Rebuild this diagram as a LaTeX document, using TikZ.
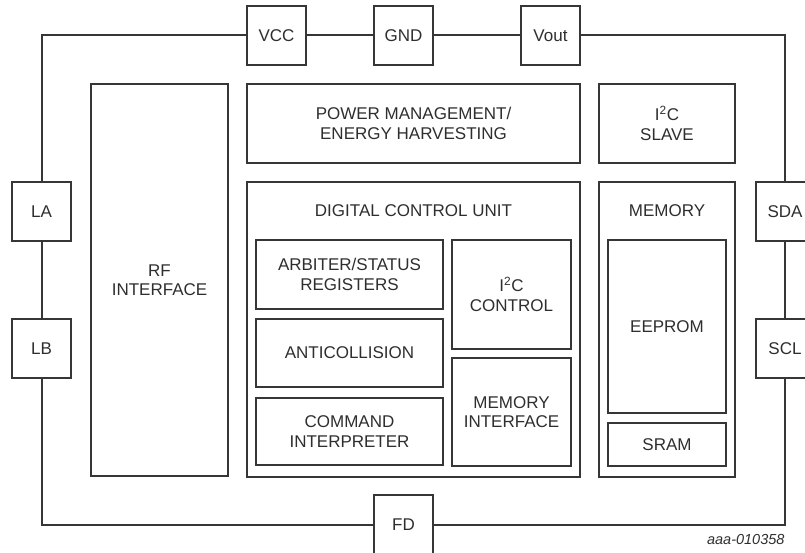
\documentclass[tikz,border=0pt]{standalone}
\usepackage{fontspec}
\setmainfont{Liberation Sans}
\definecolor{ink}{HTML}{363636}
\definecolor{txt}{HTML}{2E2E2E}
\tikzset{
  every node/.style={font=\fontsize{17}{19.5}\selectfont, text=txt, align=center},
  pin/.style={draw=ink, line width=2pt, minimum width=59pt, minimum height=59pt, inner sep=0pt},
  block/.style={draw=ink, line width=2pt, inner sep=0pt},
  part/.style={draw=ink, line width=1.8pt, inner sep=0pt},
  wire/.style={draw=ink, line width=2pt}
}

\begin{document}
\begin{tikzpicture}[x=1pt,y=-1pt]
            \clip (0,0) rectangle (805,553);

            % pins round the chip
            \node[pin] (VCC) at (276.5,35.5) {VCC};
            \node[pin] (GND) at (403.5,35.5) {GND};
            \node[pin] (Vout) at (550.5,35.5) {Vout};
            \node[pin] (LA) at (41.5,211.5) {LA};
            \node[pin] (LB) at (41.5,348.5) {LB};
            \node[pin] (SDA) at (785,211.5) {SDA};
            \node[pin] (SCL) at (785,348.5) {SCL};
            \node[pin] (FD) at (403.5,524.5) {FD};

            \draw[wire] (VCC) -| (LA);
            \draw[wire] (LA) -- (LB);
            \draw[wire] (LB) |- (FD);
            \draw[wire] (FD) -| (SCL);
            \draw[wire] (SCL) -- (SDA);
            \draw[wire] (SDA) |- (Vout);
            \draw[wire] (Vout) -- (GND) -- (VCC);

            % main blocks
            \node[block,minimum width=137pt,minimum height=392pt] (rf) at (159.5,280) {RF\\INTERFACE};
            \node[block,minimum width=333pt,minimum height=79pt] (pm) at (413.5,123.5) {POWER MANAGEMENT/\\ENERGY HARVESTING};
            \node[block,minimum width=136pt,minimum height=79pt] (i2cs) at (667,123.5) {I\textsuperscript{2}C\\SLAVE};
            \node[block,minimum width=333pt,minimum height=295pt,
                  label={[anchor=center,yshift=-30pt]north:DIGITAL CONTROL UNIT}] (dcu) at (413.5,329.5) {};
            \node[block,minimum width=136pt,minimum height=295pt,
                  label={[anchor=center,yshift=-30pt]north:MEMORY}] (mem) at (667,329.5) {};

            % inside the control unit
            \node[part,minimum width=187pt,minimum height=69pt] (arb) at (349.5,274.5) {ARBITER/STATUS\\REGISTERS};
            \node[part,minimum width=187pt,minimum height=68pt] (anti) at (349.5,353) {ANTICOLLISION};
            \node[part,minimum width=187pt,minimum height=67pt] (cmd) at (349.5,431.5) {COMMAND\\INTERPRETER};
            \node[part,minimum width=119pt,minimum height=109pt] (i2cc) at (511.5,294.5) {I\textsuperscript{2}C\\CONTROL};
            \node[part,minimum width=119pt,minimum height=108pt] (memif) at (511.5,412) {MEMORY\\INTERFACE};

            % inside the memory
            \node[part,minimum width=118pt,minimum height=173pt] (eeprom) at (667,326.5) {EEPROM};
            \node[part,minimum width=118pt,minimum height=43pt] (sram) at (667,444.5) {SRAM};

            \node[font=\itshape\fontsize{14.5}{16}\selectfont,anchor=east] (fig) at (788,540) {aaa-010358};
        \end{tikzpicture}
\end{document}
